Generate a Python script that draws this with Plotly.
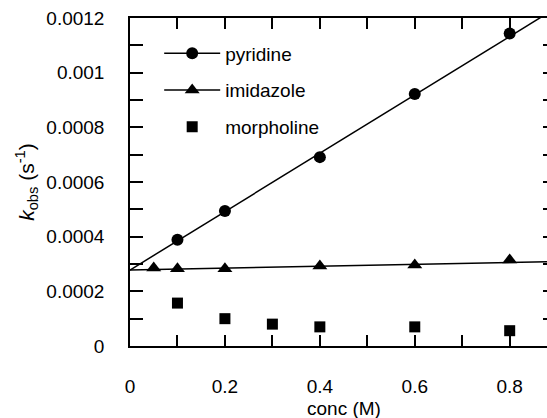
import numpy as np
import plotly.graph_objects as go

# ---- data ----
pyr_x = [0.1, 0.2, 0.4, 0.6, 0.8]
pyr_y = [0.000389, 0.000494, 0.000691, 0.000922, 0.001143]

imi_x = [0.05, 0.1, 0.2, 0.4, 0.6, 0.8]
imi_y = [0.000285, 0.000283, 0.000283, 0.000293, 0.000296, 0.000315]

mor_x = [0.1, 0.2, 0.3, 0.4, 0.6, 0.8]
mor_y = [0.000157, 0.000100, 0.000080, 0.000070, 0.000070, 0.000056]

# linear fits (intercept, slope)
pyr_fit = [0.000278, 0.001068]
imi_fit = [0.000278, 0.0000342]

x_ticks = [0, 0.2, 0.4, 0.6, 0.8]
x_ticktext = ["0", "0.2", "0.4", "0.6", "0.8"]
y_ticks = [0, 0.0002, 0.0004, 0.0006, 0.0008, 0.001, 0.0012]
y_ticktext = ["0", "0.0002", "0.0004", "0.0006", "0.0008", "0.001", "0.0012"]

X_MAX = 0.8786
FONT = "Liberation Sans, Arial, sans-serif"

fit_x = np.linspace(0, X_MAX, 50)

fig = go.Figure()

# fit lines
fig.add_trace(go.Scatter(x=fit_x, y=pyr_fit[0] + pyr_fit[1] * fit_x, mode="lines",
                         line=dict(color="black", width=1.5), showlegend=False, hoverinfo="skip"))
fig.add_trace(go.Scatter(x=fit_x, y=imi_fit[0] + imi_fit[1] * fit_x, mode="lines",
                         line=dict(color="black", width=1.5), showlegend=False, hoverinfo="skip"))

# data markers
fig.add_trace(go.Scatter(x=pyr_x, y=pyr_y, mode="markers", name="pyridine",
                         marker=dict(symbol="circle", size=12, color="black"), showlegend=False))
fig.add_trace(go.Scatter(x=imi_x, y=imi_y, mode="markers", name="imidazole",
                         marker=dict(symbol="triangle-up", size=13, color="black"), showlegend=False))
fig.add_trace(go.Scatter(x=mor_x, y=mor_y, mode="markers", name="morpholine",
                         marker=dict(symbol="square", size=11, color="black"), showlegend=False))

# legend entries
fig.add_trace(go.Scatter(x=[None], y=[None], mode="lines+markers", name="pyridine", legendgroup="a",
                         line=dict(color="black", width=1.5),
                         marker=dict(symbol="circle", size=12, color="black")))
fig.add_trace(go.Scatter(x=[None], y=[None], mode="lines+markers", name="imidazole", legendgroup="b",
                         line=dict(color="black", width=1.5),
                         marker=dict(symbol="triangle-up", size=13, color="black")))
fig.add_trace(go.Scatter(x=[None], y=[None], mode="markers", name="morpholine", legendgroup="c",
                         marker=dict(symbol="square", size=11, color="black")))

# dummy trace for right-side tick axis
fig.add_trace(go.Scatter(x=[None], y=[None], yaxis="y2", showlegend=False, hoverinfo="skip"))

fig.update_layout(
    width=547, height=418,
    margin=dict(l=130, r=0, t=18, b=72),
    paper_bgcolor="white", plot_bgcolor="white",
    font=dict(family=FONT, color="black", size=19),
    showlegend=True,
    legend=dict(x=0.07, y=0.95, xanchor="left", yanchor="top",
                bgcolor="rgba(0,0,0,0)", borderwidth=0,
                font=dict(size=19, family=FONT),
                traceorder="grouped", tracegroupgap=9, itemwidth=56),
    xaxis=dict(range=[0, X_MAX], tickvals=x_ticks, ticktext=x_ticktext,
               showgrid=False, zeroline=False, showline=True, linecolor="black", linewidth=1.5,
               mirror="ticks", ticks="inside", ticklen=11, tickwidth=1.5, tickcolor="black",
               minor=dict(dtick=0.1, tick0=0, ticks="inside", ticklen=11, tickwidth=1.5, tickcolor="black"),
               tickfont=dict(size=19), ticklabelstandoff=22),
    yaxis=dict(range=[0, 0.0012], tickvals=y_ticks, ticktext=y_ticktext,
               showgrid=False, zeroline=False, showline=True, linecolor="black", linewidth=1.5,
               ticks="inside", ticklen=13, tickwidth=1.5, tickcolor="black",
               minor=dict(dtick=0.0001, tick0=0, ticks="inside", ticklen=13, tickwidth=1.5, tickcolor="black"),
               tickfont=dict(size=19), ticklabelstandoff=20,
               title=dict(text="<i>k</i><sub>obs</sub> (s<sup>-1</sup>)", font=dict(size=21), standoff=6)),
    yaxis2=dict(range=[0, 0.0012], overlaying="y", side="right", showgrid=False, zeroline=False,
                showline=False, showticklabels=False, tickvals=y_ticks,
                ticks="inside", ticklen=4, tickwidth=1.5, tickcolor="black",
                minor=dict(dtick=0.0001, tick0=0, ticks="inside", ticklen=4, tickwidth=1.5, tickcolor="black")),
    annotations=[dict(text="conc (M)", x=0.45, xref="x", y=0, yref="paper", yshift=-62,
                      showarrow=False, font=dict(size=19, family=FONT), yanchor="middle")],
)

fig.write_html("out.html")
